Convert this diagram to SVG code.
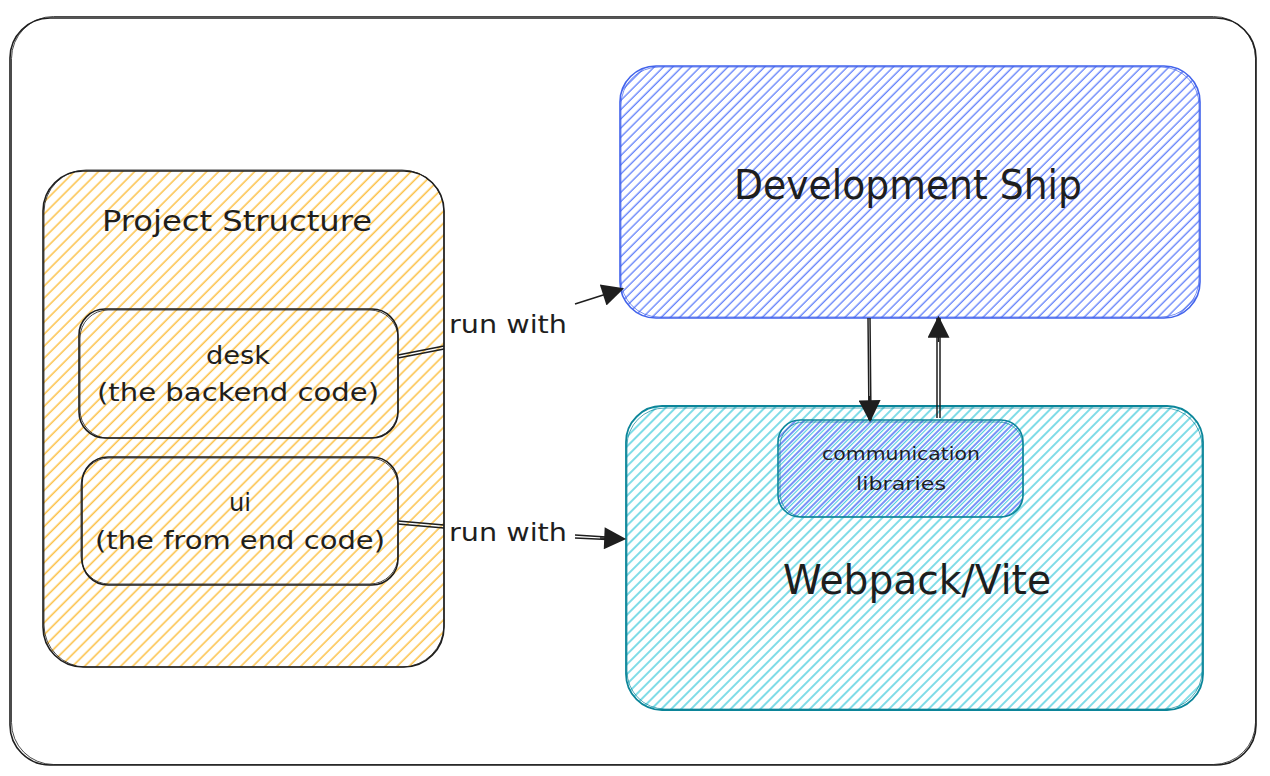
<svg xmlns="http://www.w3.org/2000/svg" width="1270" height="776" viewBox="0 0 1270 776">
<defs>
<style>
text{font-family:"DejaVu Sans","Liberation Sans",sans-serif;fill:#1e1e1e;text-anchor:middle}
.frame{fill:none;stroke:#1e1e1e;stroke-width:1.6}
.thin{fill:none;stroke:#1e1e1e;stroke-width:1;opacity:.8}
.conn{fill:none;stroke:#1e1e1e;stroke-width:1.5}
</style>
<pattern id="hOrange" patternUnits="userSpaceOnUse" width="8.5" height="8.5" patternTransform="rotate(-45)">
<rect width="8.5" height="8.5" fill="#ffffff"/><line x1="0" y1="4" x2="8.5" y2="4" stroke="#fcc34d" stroke-width="1.6"/>
</pattern>
<pattern id="hBlue" patternUnits="userSpaceOnUse" width="6.5" height="6.5" patternTransform="rotate(-45)">
<rect width="6.5" height="6.5" fill="#ffffff"/><line x1="0" y1="3" x2="6.5" y2="3" stroke="#5c7cfa" stroke-width="1.3"/>
</pattern>
<pattern id="hTeal" patternUnits="userSpaceOnUse" width="7" height="7" patternTransform="rotate(-45)">
<rect width="7" height="7" fill="#ffffff"/><line x1="0" y1="3" x2="7" y2="3" stroke="#3bc9db" stroke-width="1.3"/>
</pattern>
<pattern id="hComm" patternUnits="userSpaceOnUse" width="6" height="6" patternTransform="rotate(-45)">
<rect width="6" height="6" fill="#ffffff"/><line x1="0" y1="2" x2="6" y2="2" stroke="#4c6ef5" stroke-width="1.5"/><line x1="0" y1="4.6" x2="6" y2="4.6" stroke="#3bc9db" stroke-width="1"/>
</pattern>
<marker id="triL" viewBox="0 0 10 10" refX="9" refY="5" markerWidth="24" markerHeight="22" markerUnits="userSpaceOnUse" orient="auto">
<path d="M0,0 L10,5 L0,10 z" fill="#1e1e1e"/>
</marker>
</defs>

<g id="outer-frame">
<rect x="10" y="18" width="1246" height="747" rx="40" class="frame"/>
<rect x="11.5" y="16.5" width="1244" height="748" rx="42" class="thin"/>
</g>

<g id="project-structure">
<rect x="43" y="171" width="401" height="496" rx="40" fill="url(#hOrange)" stroke="#1e1e1e" stroke-width="1.6"/>
<rect x="44" y="170" width="400" height="497" rx="42" class="thin"/>
<text x="237" y="231" font-size="28" textLength="270" lengthAdjust="spacingAndGlyphs">Project Structure</text>
</g>

<g id="desk">
<rect x="79" y="309" width="319" height="129" rx="26" fill="none" stroke="#1e1e1e" stroke-width="1.6"/>
<rect x="80" y="310" width="318" height="128" rx="28" class="thin"/>
<text x="238" y="364" font-size="24" textLength="64" lengthAdjust="spacingAndGlyphs">desk</text>
<text x="238" y="401" font-size="24" textLength="282" lengthAdjust="spacingAndGlyphs">(the backend code)</text>
</g>

<g id="ui">
<rect x="82" y="457" width="316" height="128" rx="26" fill="none" stroke="#1e1e1e" stroke-width="1.6"/>
<rect x="81" y="458" width="317" height="126" rx="28" class="thin"/>
<text x="240" y="511" font-size="24" textLength="22" lengthAdjust="spacingAndGlyphs">ui</text>
<text x="240" y="549" font-size="24" textLength="290" lengthAdjust="spacingAndGlyphs">(the from end code)</text>
</g>

<g id="development-ship">
<rect x="620" y="66" width="580" height="252" rx="36" fill="url(#hBlue)" stroke="#4263eb" stroke-width="1.6"/>
<rect x="621" y="67" width="578" height="250" rx="38" fill="none" stroke="#4263eb" stroke-width="1" opacity=".7"/>
<text x="908" y="199" font-size="40" textLength="348" lengthAdjust="spacingAndGlyphs">Development Ship</text>
</g>

<g id="webpack-vite">
<rect x="626" y="406" width="577" height="304" rx="36" fill="url(#hTeal)" stroke="#0c8599" stroke-width="1.8"/>
<rect x="627" y="408" width="575" height="301" rx="38" fill="none" stroke="#0c8599" stroke-width="1" opacity=".7"/>
<text x="917" y="594" font-size="40" textLength="268" lengthAdjust="spacingAndGlyphs">Webpack/Vite</text>
</g>

<g id="communication-libraries">
<rect x="778" y="420" width="245" height="97" rx="22" fill="url(#hComm)" stroke="#0c8599" stroke-width="1.6"/>
<rect x="780" y="422" width="243" height="95" rx="24" fill="none" stroke="#0c8599" stroke-width="1" opacity=".7"/>
<text x="901" y="460" font-size="18" textLength="158" lengthAdjust="spacingAndGlyphs">communication</text>
<text x="901" y="490" font-size="18" textLength="90" lengthAdjust="spacingAndGlyphs">libraries</text>
</g>

<g id="connectors">
<path d="M398,355 L444,346 M398,358 L444,349" class="conn" stroke-width="1.2"/>
<text x="508" y="333" font-size="24" textLength="118" lengthAdjust="spacingAndGlyphs">run with</text>
<path d="M575,304 L622,289" class="conn" stroke-width="2" marker-end="url(#triL)"/>
<path d="M398,521 L444,525 M398,524 L444,528" class="conn" stroke-width="1.2"/>
<text x="508" y="541" font-size="24" textLength="118" lengthAdjust="spacingAndGlyphs">run with</text>
<path d="M575,535 L622,538 M575,538 L618,540" class="conn" stroke-width="1.5"/>
<path d="M600,538 L624,539" class="conn" stroke-width="1" marker-end="url(#triL)"/>
<path d="M868,318 L869,420 M870,318 L871,420" class="conn" stroke-width="1.2"/>
<path d="M869.5,396 L870,420" class="conn" stroke-width="1" marker-end="url(#triL)"/>
<path d="M937,418 L937,318 M940,418 L940,318" class="conn" stroke-width="1.2"/>
<path d="M938.5,342 L938.5,318" class="conn" stroke-width="1" marker-end="url(#triL)"/>
</g>
</svg>
